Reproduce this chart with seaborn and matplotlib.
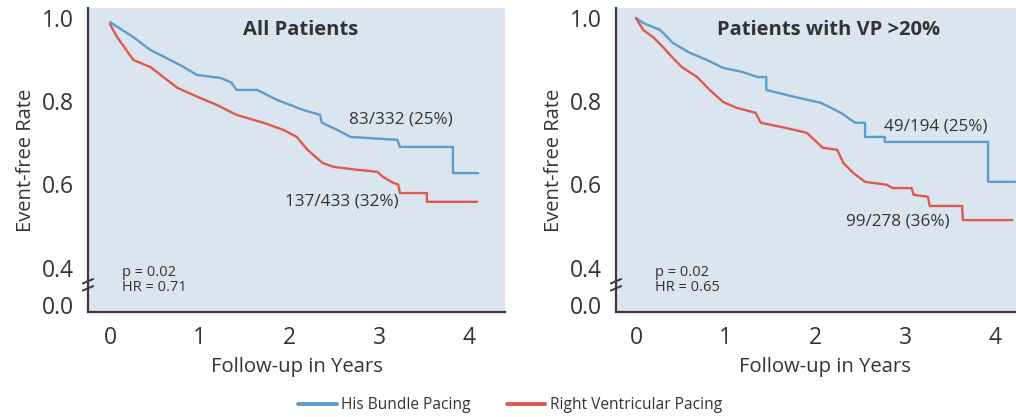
import numpy as np
import pandas as pd
import matplotlib
matplotlib.use("Agg")
import matplotlib.pyplot as plt
import matplotlib.transforms as mtransforms
from matplotlib.lines import Line2D
import seaborn as sns

# ---------------- data ----------------
series_names = ["His Bundle Pacing", "Right Ventricular Pacing"]
panel_titles = ["All Patients", "Patients with VP >20%"]

# All patients
all_hbp_t = [0, 0.26, 0.45, 0.78, 0.97, 1.23, 1.35, 1.41, 1.64, 1.86, 2.15, 2.34, 2.36,
             2.53, 2.68, 3.20, 3.23, 3.82, 3.82, 4.10]
all_hbp_s = [0.99, 0.954, 0.923, 0.887, 0.863, 0.856, 0.845, 0.827, 0.827, 0.803, 0.779,
             0.767, 0.748, 0.731, 0.714, 0.707, 0.690, 0.690, 0.627, 0.627]
all_rvp_t = [0, 0.08, 0.26, 0.45, 0.75, 1.00, 1.19, 1.41, 1.71, 1.93, 2.08, 2.20, 2.37,
             2.49, 2.75, 2.98, 3.04, 3.16, 3.21, 3.23, 3.53, 3.53, 4.09]
all_rvp_s = [0.985, 0.954, 0.899, 0.882, 0.832, 0.808, 0.791, 0.767, 0.748, 0.731, 0.714,
             0.683, 0.651, 0.642, 0.635, 0.630, 0.618, 0.603, 0.600, 0.579, 0.579, 0.558, 0.558]

# Patients with VP > 20%
vp_hbp_t = [0, 0.08, 0.27, 0.41, 0.60, 0.79, 0.97, 1.19, 1.35, 1.45, 1.45, 1.77, 2.06,
            2.28, 2.44, 2.55, 2.55, 2.77, 2.77, 3.92, 3.92, 4.22]
vp_hbp_s = [1.0, 0.988, 0.971, 0.940, 0.916, 0.899, 0.880, 0.870, 0.858, 0.858, 0.827,
            0.810, 0.796, 0.772, 0.748, 0.748, 0.714, 0.714, 0.702, 0.702, 0.606, 0.606]
vp_rvp_t = [0, 0.08, 0.19, 0.30, 0.41, 0.51, 0.68, 0.82, 0.97, 1.12, 1.33, 1.39, 1.66,
            1.90, 2.08, 2.24, 2.31, 2.42, 2.55, 2.79, 2.86, 3.07, 3.09, 3.25, 3.27, 3.63,
            3.64, 4.19]
vp_rvp_s = [1.0, 0.971, 0.954, 0.930, 0.904, 0.882, 0.858, 0.827, 0.798, 0.784, 0.772,
            0.748, 0.736, 0.724, 0.688, 0.683, 0.651, 0.627, 0.606, 0.599, 0.591, 0.591,
            0.575, 0.570, 0.548, 0.548, 0.514, 0.514]

event_labels_hbp = ["83/332 (25%)", "49/194 (25%)"]
event_labels_rvp = ["137/433 (32%)", "99/278 (36%)"]
stats_labels = ["p = 0.02\nHR = 0.71", "p = 0.02\nHR = 0.65"]

ytick_vals = [0.31, 0.4, 0.6, 0.8, 1.0]          # 0.31 = broken-axis position of 0.0
ytick_labels = ["0.0", "0.4", "0.6", "0.8", "1.0"]
xtick_vals = [0, 1, 2, 3, 4]

# ---------------- style ----------------
sns.set_theme(style="white")
plt.rcParams["font.family"] = ["Open Sans", "DejaVu Sans"]

BLUE = "#5b9ecb"
RED = "#df5a4e"
BG = "#dbe5f0"
TXT = "#333333"
SPINE = "#3a3a3a"

W, H = 1016, 417
fig = plt.figure(figsize=(W / 100, H / 100), dpi=100)

def fx(px):
    return px / W

def fy(py):
    return 1 - py / H

axL = fig.add_axes([fx(88), fy(312), fx(505 - 88), (312 - 8) / H])
axR = fig.add_axes([fx(616), fy(312), fx(1033 - 616), (312 - 8) / H])

panels = [
    (axL, all_hbp_t, all_hbp_s, all_rvp_t, all_rvp_s, (-0.245, 4.40),
     (3.24, 0.755), (2.58, 0.558), 0.13),
    (axR, vp_hbp_t, vp_hbp_s, vp_rvp_t, vp_rvp_s, (-0.223, 4.42),
     (3.34, 0.738), (2.91, 0.510), 0.21),
]

for i, (ax, ht, hs, rt, rs, xl, lab_h, lab_r, sx) in enumerate(panels):
    ax.set_facecolor(BG)
    dfh = pd.DataFrame({"t": ht, "s": hs})
    dfr = pd.DataFrame({"t": rt, "s": rs})
    sns.lineplot(data=dfh, x="t", y="s", ax=ax, color=BLUE, lw=1.7, sort=False,
                 estimator=None)
    sns.lineplot(data=dfr, x="t", y="s", ax=ax, color=RED, lw=1.7, sort=False,
                 estimator=None)
    ax.set_xlim(*xl)
    ax.set_ylim(0.293, 1.024)
    ax.set_xticks(xtick_vals)
    ax.set_xticklabels([str(v) for v in xtick_vals])
    ax.set_yticks(ytick_vals)
    ax.set_yticklabels(ytick_labels)
    for side in ["top", "right"]:
        ax.spines[side].set_visible(False)
    for side in ["left", "bottom"]:
        ax.spines[side].set_color(SPINE)
        ax.spines[side].set_linewidth(1.6)
    ax.tick_params(axis="both", direction="out", length=8, width=1.5, color=SPINE,
                   labelsize=16.5, labelcolor=TXT, pad=2)
    ax.tick_params(axis="y", pad=2)
    ax.set_xlabel("Follow-up in Years", fontsize=14.6, color=TXT, labelpad=5)
    ax.set_ylabel("Event-free Rate", fontsize=14.5, color=TXT, labelpad=4)
    ax.text(0.51, 0.928, panel_titles[i], transform=ax.transAxes, ha="center",
            va="center", fontsize=14.5, fontweight="bold", color=TXT)
    ax.text(lab_h[0], lab_h[1], event_labels_hbp[i], ha="center", va="center",
            fontsize=12.3, color=TXT)
    ax.text(lab_r[0], lab_r[1], event_labels_rvp[i], ha="center", va="center",
            fontsize=12.3, color=TXT)
    ax.text(sx, 0.370, stats_labels[i], ha="left", va="center", fontsize=10.5,
            color=TXT, linespacing=1.0)
    # axis break marks
    trans = mtransforms.blended_transform_factory(ax.transAxes, ax.transData)
    for yb in (0.367, 0.350):
        ax.plot([-0.014, 0.014], [yb - 0.006, yb + 0.006], transform=trans,
                color=SPINE, lw=1.4, clip_on=False, solid_capstyle="butt")
    leg = ax.get_legend()
    if leg is not None:
        leg.remove()

handles = [Line2D([], [], color=BLUE, lw=2.8), Line2D([], [], color=RED, lw=2.8)]
fig.legend(handles, series_names, loc="center", bbox_to_anchor=(0.502, fy(405)),
           ncol=2, frameon=False, fontsize=11.2, handlelength=2.5,
           handletextpad=0.3, columnspacing=2.3, labelcolor=TXT)

fig.savefig("out.png", dpi=100)
